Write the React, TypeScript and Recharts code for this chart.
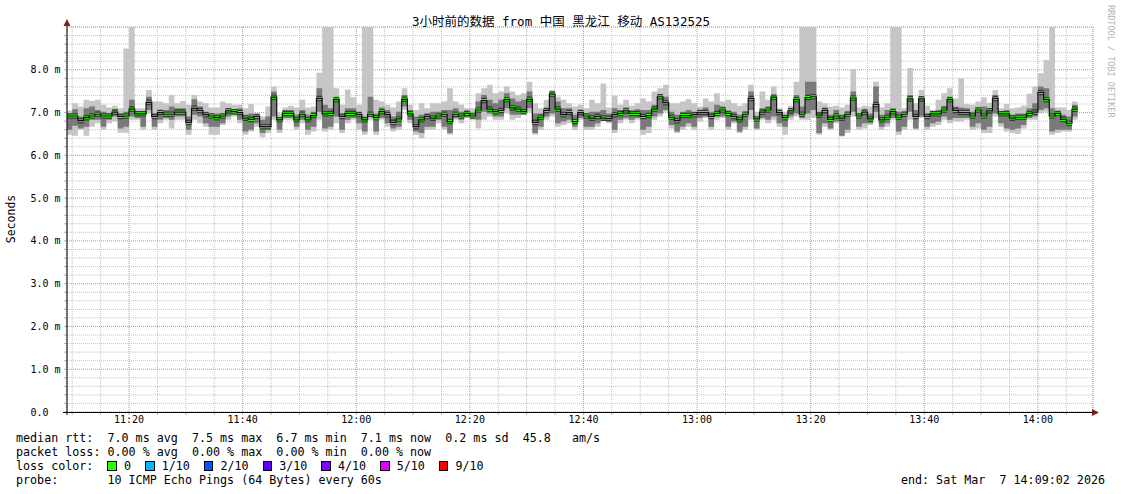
import React from "react";
import { Area, CartesianGrid, ComposedChart, Line, XAxis, YAxis } from "recharts";

// minutes after 11:00, one sample per minute
const firstMinute = 9;

// median rtt (ms)
const median = [
  6.92, 6.92, 6.81, 6.88, 6.92, 6.96, 6.92, 6.92, 7.01, 6.91,
  6.92, 7.08, 6.97, 6.97, 7.24, 6.91, 7.0, 6.96, 6.96, 7.01,
  7.01, 6.77, 7.1, 7.05, 6.95, 6.92, 6.88, 6.92, 7.04, 7.02,
  7.0, 6.87, 6.84, 6.91, 6.67, 6.67, 7.36, 6.83, 6.98, 6.98,
  6.83, 6.96, 6.83, 6.93, 7.33, 6.97, 6.98, 7.3, 6.91, 6.98,
  6.98, 6.95, 6.83, 6.96, 6.88, 7.02, 6.95, 6.77, 6.85, 7.31,
  6.97, 6.67, 6.83, 6.91, 6.87, 6.92, 6.96, 6.79, 6.96, 6.92,
  6.98, 6.92, 7.06, 7.28, 7.08, 7.02, 7.05, 7.3, 7.11, 7.08,
  7.02, 7.31, 6.77, 6.89, 7.05, 7.43, 7.08, 6.95, 7.0, 6.79,
  7.0, 6.92, 6.87, 6.91, 6.87, 6.86, 6.95, 6.98, 7.04, 6.98,
  6.98, 6.91, 6.93, 7.08, 7.37, 7.23, 6.89, 6.81, 6.93, 6.93,
  6.95, 7.0, 7.0, 6.91, 6.98, 7.06, 6.98, 6.91, 6.83, 6.96,
  7.33, 6.85, 7.01, 7.06, 7.36, 7.0, 6.88, 7.04, 7.3, 6.96,
  7.35, 7.37, 6.94, 7.05, 6.84, 6.92, 6.87, 6.96, 7.34, 6.92,
  7.01, 6.85, 7.19, 6.83, 6.89, 7.02, 6.89, 6.96, 7.32, 6.91,
  7.32, 6.91, 6.97, 6.97, 7.06, 7.3, 7.05, 7.0, 7.0, 6.92,
  7.06, 6.92, 7.04, 7.33, 6.97, 6.97, 6.87, 6.89, 6.89, 6.98,
  7.01, 7.47, 7.3, 6.92, 6.98, 6.84, 6.75, 7.08,
];

// smoke: fastest / slowest ping
const low = [
  6.48, 6.46, 6.6, 6.46, 6.67, 6.75, 6.6, 6.75, 6.79, 6.53,
  6.53, 6.83, 6.83, 6.6, 6.98, 6.6, 6.75, 6.83, 6.63, 6.83,
  6.83, 6.48, 6.83, 6.75, 6.67, 6.48, 6.48, 6.71, 6.83, 6.91,
  6.75, 6.48, 6.56, 6.67, 6.42, 6.52, 6.83, 6.52, 6.83, 6.83,
  6.6, 6.75, 6.48, 6.56, 6.83, 6.56, 6.6, 6.75, 6.52, 6.75,
  6.83, 6.6, 6.48, 6.83, 6.48, 6.83, 6.67, 6.56, 6.6, 7.06,
  6.75, 6.48, 6.4, 6.6, 6.6, 6.75, 6.6, 6.48, 6.83, 6.75,
  6.87, 6.83, 6.63, 6.83, 6.91, 6.83, 6.83, 6.98, 6.83, 6.87,
  6.95, 7.02, 6.48, 6.6, 6.83, 6.91, 6.67, 6.71, 6.75, 6.6,
  6.83, 6.6, 6.6, 6.67, 6.83, 6.75, 6.52, 6.75, 6.83, 6.75,
  6.83, 6.48, 6.52, 6.83, 6.91, 7.02, 6.63, 6.52, 6.6, 6.67,
  6.6, 6.79, 6.87, 6.6, 6.83, 6.87, 6.6, 6.75, 6.52, 6.6,
  6.83, 6.6, 6.83, 6.75, 6.83, 6.67, 6.48, 6.83, 6.91, 6.83,
  6.83, 6.87, 6.48, 6.67, 6.6, 6.75, 6.44, 6.52, 6.91, 6.6,
  6.63, 6.71, 6.87, 6.6, 6.67, 6.83, 6.48, 6.6, 6.83, 6.6,
  6.87, 6.6, 6.67, 6.71, 6.83, 6.75, 6.79, 6.79, 6.83, 6.6,
  6.63, 6.52, 6.52, 6.91, 6.67, 6.56, 6.52, 6.5, 6.63, 6.83,
  6.83, 6.98, 7.02, 6.48, 6.52, 6.56, 6.56, 6.83,
];
const high = [
  7.05, 7.22, 7.14, 7.3, 7.27, 7.3, 7.18, 7.12, 7.16, 7.1,
  8.5, 9.6, 7.1, 7.1, 7.53, 7.26, 7.26, 7.22, 7.41, 7.22,
  7.27, 7.18, 7.41, 7.26, 7.22, 7.12, 7.12, 7.26, 7.22, 7.18,
  7.18, 7.1, 7.2, 6.98, 6.91, 7.14, 7.61, 6.98, 7.12, 7.16,
  7.12, 7.3, 7.12, 7.14, 7.93, 9.6, 9.6, 7.57, 7.18, 7.54,
  7.36, 7.18, 9.6, 9.6, 7.3, 7.26, 7.18, 7.12, 7.26, 7.57,
  7.18, 7.06, 7.22, 7.1, 7.22, 7.22, 7.26, 7.57, 7.26, 7.18,
  7.1, 7.1, 7.45, 7.57, 7.65, 7.45, 7.49, 7.61, 7.49, 7.41,
  7.45, 7.72, 7.22, 7.1, 7.3, 7.53, 7.37, 7.3, 7.22, 7.14,
  7.18, 7.1, 7.3, 7.22, 7.68, 7.12, 7.39, 7.18, 7.3, 7.16,
  7.22, 7.33, 7.26, 7.49, 7.57, 7.65, 7.22, 7.22, 7.26, 7.31,
  7.22, 7.14, 7.33, 7.26, 7.45, 7.26, 7.3, 7.22, 7.16, 7.22,
  7.65, 7.02, 7.49, 7.3, 7.61, 7.1, 7.02, 7.16, 7.72, 9.6,
  9.6, 9.6, 7.26, 7.22, 7.14, 7.16, 7.12, 7.18, 8.01, 7.12,
  7.16, 7.14, 7.72, 7.12, 7.22, 9.6, 9.6, 7.1, 8.04, 7.22,
  7.53, 7.16, 7.06, 7.3, 7.45, 7.57, 7.33, 7.8, 7.2, 7.18,
  7.26, 7.36, 7.23, 7.53, 7.1, 7.2, 7.1, 7.12, 7.16, 7.44,
  7.61, 7.92, 8.23, 9.6, 7.12, 7.12, 7.06, 7.26,
];

// smoke: the denser middle pings
const darkLow = [
  6.6, 6.69, 6.63, 6.67, 6.83, 6.83, 6.67, 6.83, 6.91, 6.63,
  6.67, 6.91, 6.87, 6.67, 7.06, 6.67, 6.83, 6.87, 6.83, 6.91,
  6.91, 6.6, 6.95, 6.91, 6.75, 6.67, 6.67, 6.75, 6.91, 6.95,
  6.83, 6.56, 6.6, 6.75, 6.52, 6.6, 6.91, 6.6, 6.87, 6.87,
  6.67, 6.83, 6.6, 6.67, 7.02, 6.63, 6.67, 6.91, 6.6, 6.83,
  6.87, 6.75, 6.56, 6.91, 6.56, 6.87, 6.75, 6.63, 6.67, 7.14,
  6.83, 6.56, 6.52, 6.67, 6.67, 6.83, 6.67, 6.52, 6.87, 6.83,
  6.89, 6.87, 6.83, 7.02, 6.98, 6.91, 6.91, 7.1, 6.95, 6.95,
  6.98, 7.1, 6.52, 6.67, 6.91, 6.98, 6.75, 6.79, 6.83, 6.67,
  6.87, 6.67, 6.67, 6.75, 6.87, 6.79, 6.6, 6.83, 6.87, 6.83,
  6.87, 6.6, 6.67, 6.91, 6.98, 7.06, 6.71, 6.56, 6.67, 6.75,
  6.67, 6.87, 6.91, 6.67, 6.91, 6.91, 6.67, 6.79, 6.56, 6.67,
  7.06, 6.63, 6.87, 6.83, 6.91, 6.75, 6.67, 6.91, 6.98, 6.87,
  6.98, 7.06, 6.52, 6.75, 6.63, 6.79, 6.46, 6.6, 7.02, 6.67,
  6.75, 6.75, 7.02, 6.67, 6.75, 6.87, 6.56, 6.67, 7.02, 6.63,
  6.91, 6.67, 6.75, 6.79, 6.91, 6.83, 6.87, 6.87, 6.87, 6.67,
  6.75, 6.6, 6.67, 6.98, 6.75, 6.63, 6.6, 6.63, 6.71, 6.87,
  6.91, 7.06, 7.1, 6.56, 6.6, 6.6, 6.6, 6.91,
];
const darkHigh = [
  6.98, 7.08, 6.91, 7.1, 7.14, 7.06, 7.02, 6.98, 7.08, 6.98,
  7.02, 7.3, 7.02, 6.98, 7.37, 6.98, 7.06, 7.06, 7.14, 7.1,
  7.1, 6.91, 7.31, 7.14, 7.02, 6.98, 6.98, 6.98, 7.1, 7.08,
  7.1, 6.95, 6.98, 6.95, 6.83, 6.91, 7.49, 6.87, 7.06, 7.06,
  6.95, 7.06, 6.95, 7.02, 7.57, 7.18, 7.1, 7.37, 6.98, 7.1,
  7.1, 7.02, 6.91, 7.37, 6.98, 7.12, 7.06, 6.91, 7.02, 7.41,
  7.06, 6.91, 6.95, 6.98, 7.02, 7.02, 7.06, 7.06, 7.1, 7.02,
  7.05, 7.0, 7.26, 7.41, 7.3, 7.22, 7.3, 7.45, 7.33, 7.26,
  7.3, 7.49, 6.98, 6.98, 7.1, 7.49, 7.26, 7.1, 7.1, 6.95,
  7.06, 6.98, 7.02, 7.02, 7.06, 6.98, 7.1, 7.06, 7.12, 7.05,
  7.08, 7.06, 7.06, 7.18, 7.41, 7.37, 7.02, 6.95, 7.02, 7.06,
  7.02, 7.05, 7.12, 7.02, 7.18, 7.14, 7.02, 7.02, 6.95, 7.02,
  7.49, 6.91, 7.1, 7.14, 7.37, 7.02, 6.95, 7.1, 7.41, 7.14,
  7.72, 7.72, 7.02, 7.1, 6.95, 7.06, 6.95, 7.02, 7.49, 6.98,
  7.02, 6.98, 7.61, 6.95, 7.06, 7.1, 7.02, 7.02, 7.41, 7.06,
  7.37, 6.98, 7.0, 7.06, 7.16, 7.37, 7.14, 7.12, 7.1, 7.02,
  7.12, 7.14, 7.1, 7.41, 7.02, 7.06, 6.95, 6.98, 6.98, 7.1,
  7.22, 7.61, 7.57, 7.1, 7.02, 6.95, 6.91, 7.18,
];

const xMajor = [20, 40, 60, 80, 100, 120, 140, 160, 180];
const xMinor = [10, 15, 20, 25, 30, 35, 40, 45, 50, 55, 60, 65, 70, 75, 80, 85, 90, 95, 100, 105, 110, 115, 120, 125, 130, 135, 140, 145, 150, 155, 160, 165, 170, 175, 180, 185];
const yMajor = [1, 2, 3, 4, 5, 6, 7, 8];
const yMinor = Array.from({ length: 45 }, (_, i) => Math.round(i * 2) / 10);

// gray grid only where there is no red major line
const xMinorOnly = xMinor.filter((v) => !xMajor.includes(v));
const yMinorOnly = yMinor.filter((v) => v !== 0 && !yMajor.includes(v));

const lossLabels = ["0", "1/10", "2/10", "3/10", "4/10", "5/10", "9/10"];
const lossColors = ["#26ff00", "#00b8ff", "#0059ff", "#5e00ff", "#7e00ff", "#dd00ff", "#ff0000"];

const data = median.map((med, i) => ({
  m: firstMinute + i,
  med,
  lo: low[i],
  hi: high[i],
  dLo: darkLow[i],
  dHi: darkHigh[i],
}));
// repeat the last sample so its step gets drawn
data.push({ ...data[data.length - 1], m: data[data.length - 1].m + 1 });

const mono = "'DejaVu Sans Mono', monospace";
const W = 1121;
const H = 494;
const margin = { top: 27, right: 28, bottom: 57, left: 0 };
const xDomain: [number, number] = [9.08, 189.7];
const yDomain: [number, number] = [0, 9];

const hhmm = (m: number) => {
  const h = 11 + Math.floor(m / 60);
  const mm = m % 60;
  return `${h}:${mm < 10 ? "0" : ""}${mm}`;
};

const XTick = (props: any) => {
  const { x, y, payload } = props;
  if (payload.value % 20 !== 0) return <g />;
  return (
    <text x={x} y={y} dy={6} textAnchor="middle" fontSize={10} fontFamily={mono} fill="#000">
      {hhmm(payload.value)}
    </text>
  );
};

const YTick = (props: any) => {
  const { y, payload } = props;
  const v = payload.value;
  if (!Number.isInteger(v) || v > 8) return <g />;
  return (
    <text x={30.5} y={y} dy={3.5} textAnchor="start" fontSize={10} fontFamily={mono} fill="#000">
      {v === 0 ? "0.0" : `${v.toFixed(1)} m`}
    </text>
  );
};

const NoTick = () => <g />;

// one grid layer: same chart box and scales as the data chart, axes invisible
function GridLayer({ xTicks, yTicks, stroke }: { xTicks: number[]; yTicks: number[]; stroke: string }) {
  return (
    <div style={{ position: "absolute", left: 0, top: 0 }}>
      <ComposedChart width={W} height={H} data={data} margin={margin}>
        <CartesianGrid stroke={stroke} strokeDasharray="1 1" horizontal vertical />
        <XAxis dataKey="m" type="number" domain={xDomain} allowDataOverflow ticks={xTicks} interval={0} height={25} axisLine={false} tickLine={false} tick={<NoTick />} />
        <YAxis type="number" domain={yDomain} allowDataOverflow ticks={yTicks} interval={0} width={67} axisLine={false} tickLine={false} tick={<NoTick />} />
      </ComposedChart>
    </div>
  );
}

const legendLine: React.CSSProperties = {
  position: "absolute",
  left: 16,
  fontFamily: mono,
  fontSize: 11.7,
  lineHeight: "14px",
  whiteSpace: "pre",
  color: "#000",
};

export default function App() {
  return (
    <div style={{ position: "absolute", left: 0, top: 0, width: W, height: H, background: "#fff", overflow: "hidden" }}>
      <GridLayer xTicks={xMinorOnly} yTicks={yMinorOnly} stroke="#c4c4c4" />
      <GridLayer xTicks={xMajor} yTicks={yMajor} stroke="#f08080" />

      <div style={{ position: "absolute", left: 0, top: 0 }}>
        <ComposedChart width={W} height={H} data={data} margin={margin}>
          <XAxis
            dataKey="m"
            type="number"
            domain={xDomain}
            allowDataOverflow
            ticks={xMinor}
            interval={0}
            height={25}
            axisLine={false}
            tickSize={3}
            tickLine={{ stroke: "#b0b0b0" }}
            tick={<XTick />}
          />
          <YAxis
            type="number"
            domain={yDomain}
            allowDataOverflow
            ticks={yMinor}
            interval={0}
            width={67}
            axisLine={false}
            tickSize={3}
            tickLine={{ stroke: "#b0b0b0" }}
            tick={<YTick />}
          />
          <Area type="stepAfter" dataKey={(d: any) => [d.lo, d.hi]} fill="#c6c6c6" fillOpacity={1} stroke="none" isAnimationActive={false} />
          <Area type="stepAfter" dataKey={(d: any) => [d.dLo, d.dHi]} fill="#7a7a7a" fillOpacity={1} stroke="none" isAnimationActive={false} />
          <Area type="stepAfter" dataKey={(d: any) => [d.med - 0.065, d.med + 0.065]} fill="#3a3a3a" fillOpacity={1} stroke="none" isAnimationActive={false} />
          <Line type="stepAfter" dataKey="med" stroke="#111" strokeWidth={1.2} dot={false} activeDot={false} isAnimationActive={false} />
          <Area type="stepAfter" dataKey={(d: any) => [d.med - 0.035, d.med + 0.035]} fill="#26ff00" fillOpacity={1} stroke="none" isAnimationActive={false} />
        </ComposedChart>
      </div>

      <svg width={W} height={H} style={{ position: "absolute", left: 0, top: 0, pointerEvents: "none" }}>
        <text x={561} y={26} textAnchor="middle" fontSize={12.5} fontFamily={`${mono}, 'Noto Sans CJK SC'`} fill="#000">
          3小时前的数据 from 中国 黑龙江 移动 AS132525
        </text>
        <text x={14.5} y={219} transform="rotate(-90 14.5 219)" textAnchor="middle" fontSize={11.5} fontFamily={mono} fill="#000">
          Seconds
        </text>
        <text x={1108} y={5} transform="rotate(90 1108 5)" textAnchor="start" fontSize={8.5} fontFamily={mono} fill="#b4b4b4">
          RRDTOOL / TOBI OETIKER
        </text>
        <line x1={67} y1={22} x2={67} y2={415} stroke="#000" strokeWidth={1} />
        <line x1={63} y1={412.5} x2={1094} y2={412.5} stroke="#000" strokeWidth={1} />
        <polygon points="67,19 63.5,26 70.5,26" fill="#7d1f1f" />
        <polygon points="1099,412.5 1092,409 1092,416" fill="#7d1f1f" />
      </svg>

      <div style={{ ...legendLine, top: 431 }}>
        {"median rtt:  7.0 ms avg  7.5 ms max  6.7 ms min  7.1 ms now  0.2 ms sd  45.8   am/s"}
      </div>
      <div style={{ ...legendLine, top: 445 }}>
        {"packet loss: 0.00 % avg  0.00 % max  0.00 % min  0.00 % now"}
      </div>
      <div style={{ ...legendLine, top: 459 }}>
        {"loss color:  "}
        {lossLabels.map((label, i) => (
          <React.Fragment key={label}>
            <span
              style={{
                display: "inline-block",
                width: 7.5,
                height: 8,
                border: "1px solid #000",
                background: lossColors[i],
                verticalAlign: "-1px",
              }}
            />
            {` ${label}  `}
          </React.Fragment>
        ))}
      </div>
      <div style={{ ...legendLine, top: 473 }}>
        {"probe:       10 ICMP Echo Pings (64 Bytes) every 60s"}
      </div>
      <div style={{ ...legendLine, top: 473, left: "auto", right: 16 }}>
        {"end: Sat Mar  7 14:09:02 2026"}
      </div>
    </div>
  );
}
